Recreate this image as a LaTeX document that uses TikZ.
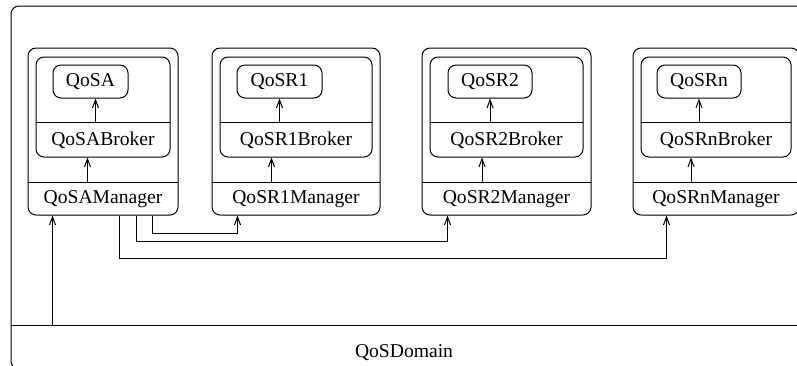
\documentclass[tikz,border=0pt]{standalone}
\usepackage{fontspec}
\setmainfont{Liberation Serif}
\usepackage{tikz}
\usetikzlibrary{
    arrows.meta,
    positioning,
    calc,
    fit
}
\tikzset{
    % Rounded box style
    component/.style={
        rectangle,
        rounded corners=4pt,
        draw=black,
        line width=0.5pt,
        inner sep=0pt,
        align=center
    },
    % Lower part of a box (holds the name)
    part/.style={
        rectangle,
        inner sep=0pt,
        align=center,
        label={[font=\fontsize{9.8}{12}\selectfont, inner sep=0pt]center:#1}
    },
    % Arrow style
    flow/.style={
        -{Straight Barb[length=4pt, width=3pt]},
        line width=0.5pt,
        color=black
    },
    % Divider style
    divider/.style={
        line width=0.5pt,
        color=black
    }
}

\begin{document}
\begin{tikzpicture}[
        x=0.5pt, y=-0.5pt,
        svc/.style={component, part=#1}
    ]
        \useasboundingbox (0,0) rectangle (797,365);
        \clip (0,0) rectangle (797,365);

        % Domain
        \node[component] (domain) [fit={(11,6) (812,369)}] {};
        \node[part=] (domlow) [fit={(11,326) (812,369)}] {};
        \node[font=\fontsize{9.8}{12}\selectfont, inner sep=0pt] (domtext) at (404,353) {QoSDomain};
        \draw[divider] (domlow.north west) -- (domlow.north east);

        % QoSA
        \node[component] (mgrA) [fit={(28,48) (178,215)}] {};
        \node[part=QoSAManager] (mgrAlow) [fit={(28,183) (178,215)}] {};
        \node[component] (brkA) [fit={(36,57) (170,157)}] {};
        \node[part=QoSABroker] (brkAlow) [fit={(36,123) (170,157)}] {};
        \node[svc=QoSA] (svcA) [fit={(53,65) (128,98)}] {};

        % QoSR1
        \node[component] (mgrR1) [fit={(212,48) (380,215)}] {};
        \node[part=QoSR1Manager] (mgrR1low) [fit={(212,183) (380,215)}] {};
        \node[component] (brkR1) [fit={(220,57) (372,157)}] {};
        \node[part=QoSR1Broker] (brkR1low) [fit={(220,123) (372,157)}] {};
        \node[svc=QoSR1] (svcR1) [fit={(237,65) (322,98)}] {};

        % QoSR2
        \node[component] (mgrR2) [fit={(422,48) (591,215)}] {};
        \node[part=QoSR2Manager] (mgrR2low) [fit={(422,183) (591,215)}] {};
        \node[component] (brkR2) [fit={(430,57) (583,157)}] {};
        \node[part=QoSR2Broker] (brkR2low) [fit={(430,123) (583,157)}] {};
        \node[svc=QoSR2] (svcR2) [fit={(448,65) (532,98)}] {};

        % QoSRn
        \node[component] (mgrRn) [fit={(633,48) (799,215)}] {};
        \node[part=QoSRnManager] (mgrRnlow) [fit={(633,183) (799,215)}] {};
        \node[component] (brkRn) [fit={(641,57) (791,157)}] {};
        \node[part=QoSRnBroker] (brkRnlow) [fit={(641,123) (791,157)}] {};
        \node[svc=QoSRn] (svcRn) [fit={(657,65) (741,98)}] {};

        % Dividers
        \foreach \n in {A, R1, R2, Rn} {
            \draw[divider] (mgr\n low.north west) -- (mgr\n low.north east);
            \draw[divider] (brk\n low.north west) -- (brk\n low.north east);
        }

        % Manager -> Broker -> service
        \draw[flow] (brkAlow.north -| svcA.south) ++(5,0) -- ($(svcA.south)+(5,0)$);
        \draw[flow] ($(mgrAlow.north -| svcA.south)+(-3,0)$) -- ($(brkA.south -| svcA.south)+(-3,0)$);
        \foreach \n in {R1, R2, Rn} {
            \draw[flow] (brk\n low.north -| svc\n.south) -- (svc\n.south);
            \draw[flow] ($(mgr\n low.north -| svc\n.south)+(-8,0)$) -- ($(brk\n.south -| svc\n.south)+(-8,0)$);
        }

        % Connections
        \draw[flow] (domlow.north -| svcA.west) -- (mgrA.south -| svcA.west);
        \draw[flow] ($(mgrA.south west)+(125,0)$) |- ($(mgrR1.south west)+(26,18)$) -- ($(mgrR1.south west)+(26,0)$);
        \draw[flow] ($(mgrA.south west)+(109,0)$) |- ($(mgrR2.south west)+(26,26)$) -- ($(mgrR2.south west)+(26,0)$);
        \draw[flow] ($(mgrA.south west)+(92,0)$) |- ($(mgrRn.south west)+(34,43)$) -- ($(mgrRn.south west)+(34,0)$);

    \end{tikzpicture}
\end{document}
